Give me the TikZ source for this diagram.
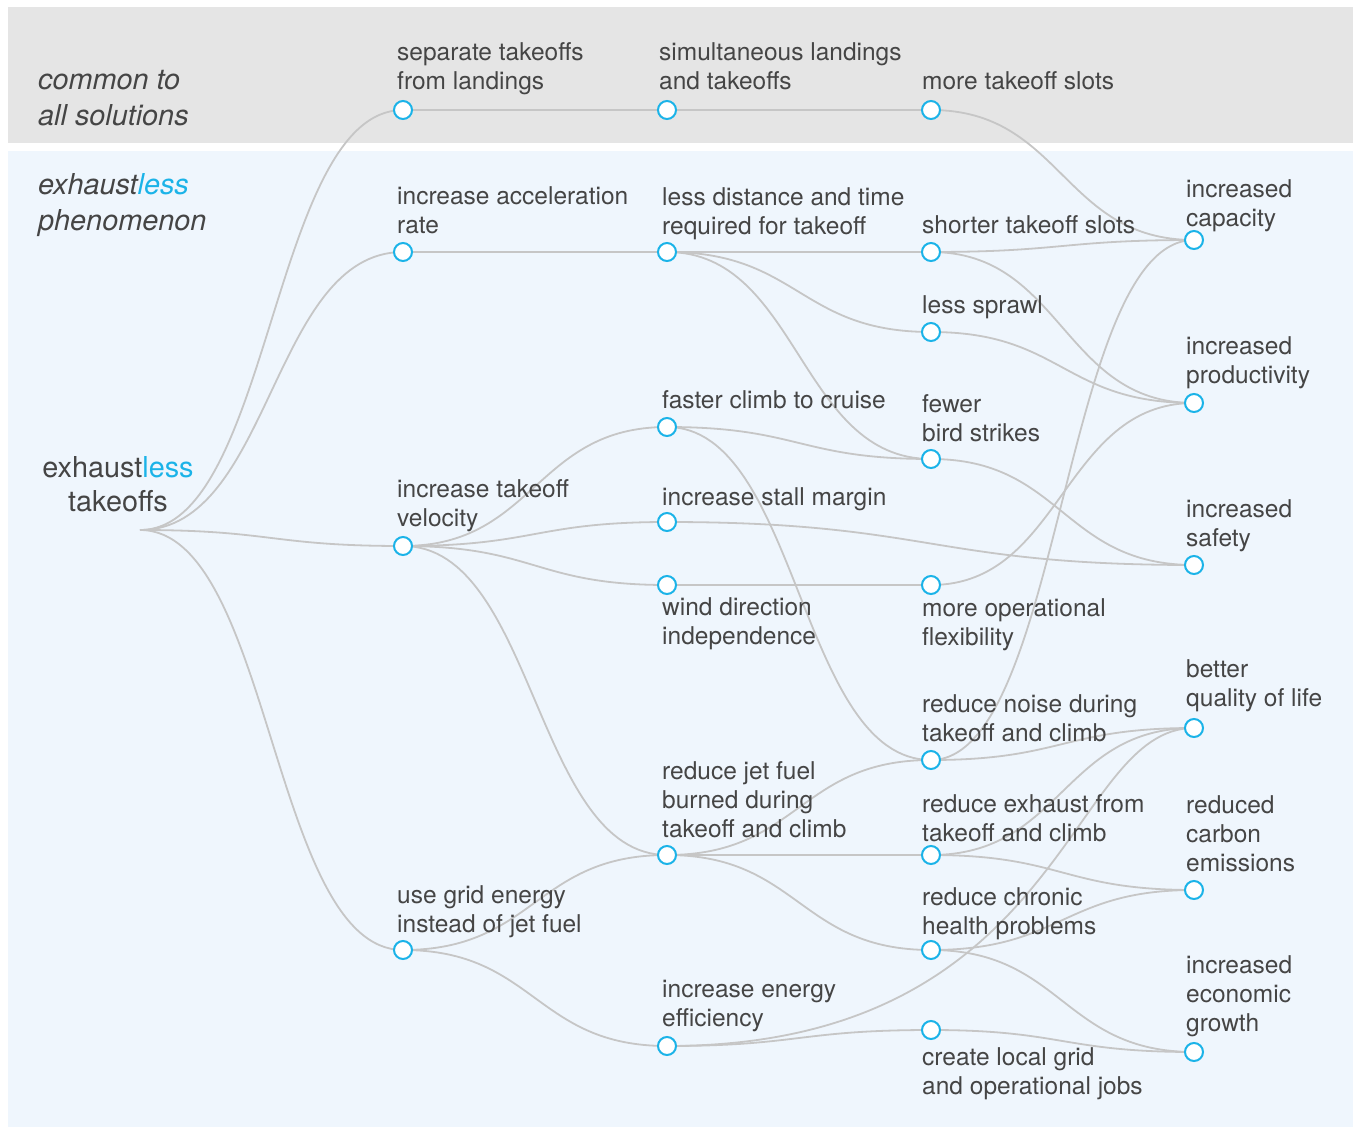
\documentclass[tikz,border=0pt]{standalone}
\usepackage{fontspec}
\setmainfont{TeX Gyre Heros}
\usetikzlibrary{calc}
\definecolor{txt}{HTML}{454545}
\definecolor{cyanc}{HTML}{1BB3E8}
\definecolor{linec}{HTML}{C6C6C6}
\definecolor{graybg}{HTML}{E5E5E5}
\definecolor{bluebg}{HTML}{EFF6FD}
\pgfdeclarelayer{bglayer}
\pgfdeclarelayer{linelayer}
\pgfsetlayers{bglayer,linelayer,main}
\newcommand\lblfont{\fontsize{24.5}{29}\selectfont}
\newcommand\bigfont{\fontsize{28.8}{35.7}\selectfont}
\newcommand\lnk[2]{\draw[link] let \p1=(#1.center), \p2=(#2.center) in (#1.center) .. controls ({(\x1+\x2)/2},\y1) and ({(\x1+\x2)/2},\y2) .. (#2.center);}
\begin{document}
\begin{tikzpicture}[x=1pt,y=-1pt,
  dot/.style={circle, draw=cyanc, fill=white, line width=2pt, minimum size=18pt, inner sep=0pt},
  lab/.style={font=\lblfont, align=left, inner sep=0pt, anchor=north west, text=txt},
  ttl/.style={font=\bigfont\itshape, align=left, inner sep=0pt, anchor=north west, text=txt},
  link/.style={draw=linec, line width=1.8pt}]
\useasboundingbox (0,0) rectangle (1353,1127);
\begin{pgfonlayer}{bglayer}
\fill[graybg] (8,7) rectangle (1353,143);
\fill[bluebg] (8,151) rectangle (1353,1127);
\end{pgfonlayer}
% titles
\node[ttl] (commonL) at (38,{89.3-25}) {\strut common to\\all solutions};
\node[ttl] (phenL) at (38,{194.3-25}) {\strut exhaust\textcolor{cyanc}{less}\\phenomenon};
\node[font=\fontsize{28.8}{34}\selectfont, align=center, inner sep=0pt, anchor=north, text=txt] (rootL) at (118,{477.7-23.8}) {\strut exhaust\textcolor{cyanc}{less}\\takeoffs};
\coordinate (root) at (140,530);
% column 1
\node[dot] (sep) at (403,110) {};
\node[dot] (accel) at (403,252) {};
\node[dot] (velo) at (403,546) {};
\node[dot] (grid) at (403,950) {};
% column 2
\node[dot] (simul) at (667,110) {};
\node[dot] (lessdist) at (667,252) {};
\node[dot] (climb) at (667,427) {};
\node[dot] (stall) at (667,522) {};
\node[dot] (wind) at (667,585) {};
\node[dot] (jetfuel) at (667,855) {};
\node[dot] (energy) at (667,1046) {};
% column 3
\node[dot] (slots) at (931,110) {};
\node[dot] (shorter) at (931,252) {};
\node[dot] (sprawl) at (931,332) {};
\node[dot] (bird) at (931,459) {};
\node[dot] (flex) at (931,585) {};
\node[dot] (noise) at (931,760) {};
\node[dot] (exhaust) at (931,855) {};
\node[dot] (health) at (931,950) {};
\node[dot] (jobs) at (931,1030) {};
% column 4
\node[dot] (capacity) at (1194,240) {};
\node[dot] (productivity) at (1194,403) {};
\node[dot] (safety) at (1194,565) {};
\node[dot] (quality) at (1194,728) {};
\node[dot] (carbon) at (1194,890) {};
\node[dot] (economic) at (1194,1052) {};
% labels
\node[lab] (sepL) at (397,{60-20.3}) {\strut separate takeoffs\\from landings};
\node[lab] (accelL) at (397,{204-20.3}) {\strut increase acceleration\\rate};
\node[lab] (veloL) at (397,{497-20.3}) {\strut increase takeoff\\velocity};
\node[lab] (gridL) at (397,{903-20.3}) {\strut use grid energy\\instead of jet fuel};
\node[lab] (simulL) at (659,{60-20.3}) {\strut simultaneous landings\\and takeoffs};
\node[lab] (lessdistL) at (662,{205-20.3}) {\strut less distance and time\\required for takeoff};
\node[lab] (climbL) at (662,{408-20.3}) {\strut faster climb to cruise};
\node[lab] (stallL) at (662,{505-20.3}) {\strut increase stall margin};
\node[lab] (windL) at (662,{615-20.3}) {\strut wind direction\\independence};
\node[lab] (jetfuelL) at (662,{779-20.3}) {\strut reduce jet fuel\\burned during\\takeoff and climb};
\node[lab] (energyL) at (662,{997-20.3}) {\strut increase energy\\efficiency};
\node[lab] (slotsL) at (922,{89-20.3}) {\strut more takeoff slots};
\node[lab] (shorterL) at (922,{233-20.3}) {\strut shorter takeoff slots};
\node[lab] (sprawlL) at (922,{313-20.3}) {\strut less sprawl};
\node[lab] (birdL) at (922,{412-20.3}) {\strut fewer\\bird strikes};
\node[lab] (flexL) at (922,{616-20.3}) {\strut more operational\\flexibility};
\node[lab] (noiseL) at (922,{712-20.3}) {\strut reduce noise during\\takeoff and climb};
\node[lab] (exhaustL) at (922,{812-20.3}) {\strut reduce exhaust from\\takeoff and climb};
\node[lab] (healthL) at (922,{905-20.3}) {\strut reduce chronic\\health problems};
\node[lab] (jobsL) at (922,{1065-20.3}) {\strut create local grid\\and operational jobs};
\node[lab] (capL) at (1186,{197-20.3}) {\strut increased\\capacity};
\node[lab] (prodL) at (1186,{354-20.3}) {\strut increased\\productivity};
\node[lab] (safeL) at (1186,{517-20.3}) {\strut increased\\safety};
\node[lab] (qualL) at (1186,{677-20.3}) {\strut better\\quality of life};
\node[lab] (carbL) at (1186,{813-20.3}) {\strut reduced\\carbon\\emissions};
\node[lab] (econL) at (1186,{973-20.3}) {\strut increased\\economic\\growth};
% links
\begin{pgfonlayer}{linelayer}
\lnk{root}{sep}
\lnk{root}{accel}
\lnk{root}{velo}
\lnk{root}{grid}
\lnk{sep}{simul}
\lnk{simul}{slots}
\lnk{slots}{capacity}
\lnk{accel}{lessdist}
\lnk{lessdist}{shorter}
\lnk{lessdist}{sprawl}
\lnk{lessdist}{bird}
\lnk{shorter}{capacity}
\lnk{shorter}{productivity}
\lnk{sprawl}{productivity}
\lnk{velo}{climb}
\lnk{velo}{stall}
\lnk{velo}{wind}
\lnk{velo}{jetfuel}
\lnk{climb}{bird}
\lnk{climb}{noise}
\lnk{bird}{safety}
\lnk{stall}{safety}
\lnk{wind}{flex}
\lnk{flex}{productivity}
\lnk{grid}{jetfuel}
\lnk{grid}{energy}
\lnk{jetfuel}{noise}
\lnk{jetfuel}{exhaust}
\lnk{jetfuel}{health}
\lnk{noise}{capacity}
\lnk{noise}{quality}
\lnk{exhaust}{quality}
\lnk{exhaust}{carbon}
\lnk{health}{carbon}
\lnk{health}{economic}
\draw[link] (energy.center) .. controls (1067,1046) and (1067,728) .. (quality.center);
\lnk{energy}{jobs}
\lnk{jobs}{economic}
\end{pgfonlayer}
\end{tikzpicture}
\end{document}
